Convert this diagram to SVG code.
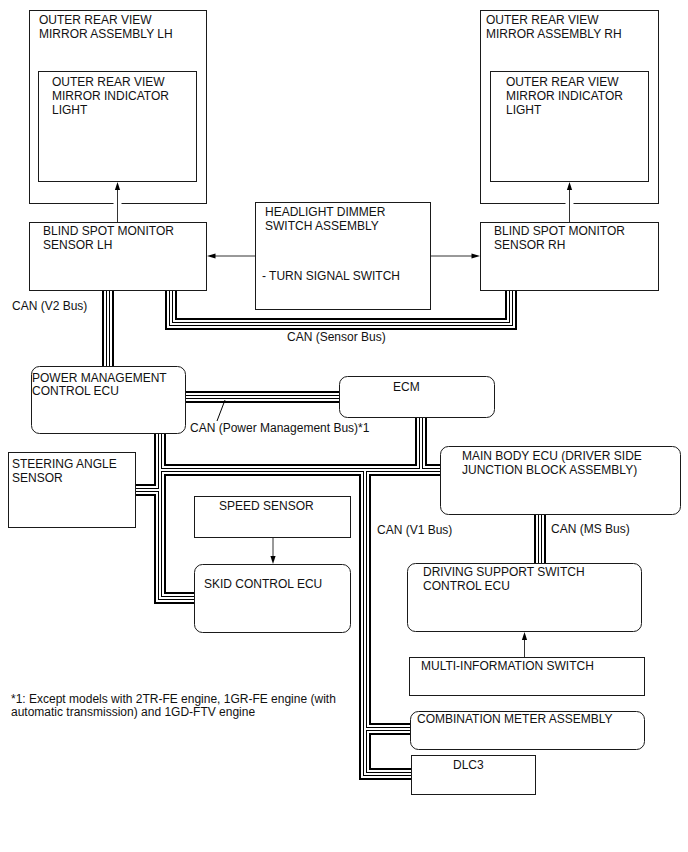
<svg xmlns="http://www.w3.org/2000/svg" width="688" height="852" viewBox="0 0 688 852">
<defs>
<style>
text{font-family:"Liberation Sans",Arial,sans-serif;font-size:12px;fill:#111}
.box{fill:#fff;stroke:#1a1a1a;stroke-width:1}
.b1{fill:none;stroke:#000;stroke-width:12;stroke-linejoin:miter}
.b2{fill:none;stroke:#fff;stroke-width:8;stroke-linejoin:miter}
.b3{fill:none;stroke:#000;stroke-width:4;stroke-linejoin:miter}
.b4{fill:none;stroke:#fff;stroke-width:2;stroke-linejoin:miter}
.ar{fill:none;stroke:#333;stroke-width:1}
.ah{fill:#000}
</style>
</defs>
<rect width="688" height="852" fill="#fff"/>
<g id="buses">
<g class="b1">
<path d="M108,286V370"/><path d="M171,286V324H511V286"/><path d="M182,397H343"/>
<path d="M160,430V598H199"/><path d="M132,490H160"/><path d="M160,470H444"/>
<path d="M421,413V470"/><path d="M365,470V774H415"/><path d="M365,729H414"/><path d="M540,510V567"/>
</g>
<g class="b2">
<path d="M108,286V370"/><path d="M171,286V324H511V286"/><path d="M182,397H343"/>
<path d="M160,430V598H199"/><path d="M132,490H160"/><path d="M160,470H444"/>
<path d="M421,413V470"/><path d="M365,470V774H415"/><path d="M365,729H414"/><path d="M540,510V567"/>
</g>
<g class="b3">
<path d="M108,286V370"/><path d="M171,286V324H511V286"/><path d="M182,397H343"/>
<path d="M160,430V598H199"/><path d="M132,490H160"/><path d="M160,470H444"/>
<path d="M421,413V470"/><path d="M365,470V774H415"/><path d="M365,729H414"/><path d="M540,510V567"/>
</g>
<g class="b4">
<path d="M108,286V370"/><path d="M171,286V324H511V286"/><path d="M182,397H343"/>
<path d="M160,430V598H199"/><path d="M132,490H160"/><path d="M160,470H444"/>
<path d="M421,413V470"/><path d="M365,470V774H415"/><path d="M365,729H414"/><path d="M540,510V567"/>
</g>
</g>
<g id="mirror-lh">
<rect class="box" x="29.5" y="10.5" width="177" height="193"/>
<text x="39" y="24">OUTER REAR VIEW</text><text x="39" y="38">MIRROR ASSEMBLY LH</text>
</g>
<g id="indicator-lh">
<rect class="box" x="38.5" y="71.5" width="158" height="110"/>
<text x="52" y="86">OUTER REAR VIEW</text><text x="52" y="100">MIRROR INDICATOR</text><text x="52" y="114">LIGHT</text>
</g>
<g id="mirror-rh">
<rect class="box" x="480.5" y="10.5" width="178" height="193"/>
<text x="486" y="24">OUTER REAR VIEW</text><text x="486" y="38">MIRROR ASSEMBLY RH</text>
</g>
<g id="indicator-rh">
<rect class="box" x="490.5" y="71.5" width="158" height="110"/>
<text x="506" y="86">OUTER REAR VIEW</text><text x="506" y="100">MIRROR INDICATOR</text><text x="506" y="114">LIGHT</text>
</g>
<g id="bsm-lh">
<rect class="box" x="29.5" y="222.5" width="177" height="68"/>
<text x="43" y="235">BLIND SPOT MONITOR</text><text x="43" y="249">SENSOR LH</text>
</g>
<g id="bsm-rh">
<rect class="box" x="480.5" y="222.5" width="178" height="68"/>
<text x="494" y="235">BLIND SPOT MONITOR</text><text x="494" y="249">SENSOR RH</text>
</g>
<g id="headlight">
<rect class="box" x="255.5" y="202.5" width="175" height="107"/>
<text x="265" y="216">HEADLIGHT DIMMER</text><text x="265" y="229.5">SWITCH ASSEMBLY</text>
<text x="262" y="280">- TURN SIGNAL SWITCH</text>
</g>
<g id="pmc">
<rect class="box" x="31.5" y="366.5" width="154" height="67" rx="8"/>
<text x="32" y="382">POWER MANAGEMENT</text><text x="32" y="395">CONTROL ECU</text>
</g>
<g id="ecm">
<rect class="box" x="339.5" y="376.5" width="155" height="41" rx="8"/>
<text x="393" y="391">ECM</text>
</g>
<g id="steering">
<rect class="box" x="8.5" y="452.5" width="127" height="75"/>
<text x="12" y="468">STEERING ANGLE</text><text x="12" y="482">SENSOR</text>
</g>
<g id="main-body">
<rect class="box" x="440.5" y="446.5" width="240" height="68" rx="8"/>
<text x="462" y="460">MAIN BODY ECU (DRIVER SIDE</text><text x="462" y="473.5">JUNCTION BLOCK ASSEMBLY)</text>
</g>
<g id="speed">
<rect class="box" x="194.5" y="496.5" width="156" height="41"/>
<text x="219" y="510">SPEED SENSOR</text>
</g>
<g id="skid">
<rect class="box" x="194.5" y="564.5" width="156" height="68" rx="8"/>
<text x="204" y="588">SKID CONTROL ECU</text>
</g>
<g id="dss">
<rect class="box" x="407.5" y="563.5" width="234" height="68" rx="8"/>
<text x="423" y="576">DRIVING SUPPORT SWITCH</text><text x="423" y="590">CONTROL ECU</text>
</g>
<g id="multi">
<rect class="box" x="409.5" y="657.5" width="235" height="38"/>
<text x="421" y="670">MULTI-INFORMATION SWITCH</text>
</g>
<g id="meter">
<rect class="box" x="410.5" y="711.5" width="234" height="38" rx="8"/>
<text x="417" y="723">COMBINATION METER ASSEMBLY</text>
</g>
<g id="dlc3">
<rect class="box" x="411.5" y="755.5" width="124" height="39"/>
<text x="453" y="769">DLC3</text>
</g>
<g id="connectors">
<line x1="113.5" y1="203.5" x2="121.5" y2="203.5" stroke="#fff" stroke-width="3"/>
<line x1="565.5" y1="203.5" x2="573.5" y2="203.5" stroke="#fff" stroke-width="3"/>
<line class="ar" x1="117.5" y1="222" x2="117.5" y2="189"/><polygon class="ah" points="117.5,182 114.9,190 120.1,190"/>
<line class="ar" x1="569.5" y1="222" x2="569.5" y2="189"/><polygon class="ah" points="569.5,182 566.9,190 572.1,190"/>
<line class="ar" x1="255" y1="256" x2="213" y2="256"/><polygon class="ah" points="207,256 215.5,253.4 215.5,258.6"/>
<line class="ar" x1="431" y1="256" x2="473" y2="256"/><polygon class="ah" points="480,256 471.5,253.4 471.5,258.6"/>
<line class="ar" x1="273" y1="538" x2="273" y2="557"/><polygon class="ah" points="273,564 270.4,556 275.6,556"/>
<line class="ar" x1="524.5" y1="657" x2="524.5" y2="638"/><polygon class="ah" points="524.5,632 521.9,640 527.1,640"/>
<line x1="217" y1="421" x2="225" y2="400" stroke="#000" stroke-width="1"/>
</g>
<g id="labels">
<text x="12" y="310">CAN (V2 Bus)</text>
<text x="287" y="341">CAN (Sensor Bus)</text>
<text x="190" y="432">CAN (Power Management Bus)*1</text>
<text x="377" y="534">CAN (V1 Bus)</text>
<text x="551" y="533">CAN (MS Bus)</text>
<text x="11" y="703">*1: Except models with 2TR-FE engine, 1GR-FE engine (with</text>
<text x="11" y="716">automatic transmission) and 1GD-FTV engine</text>
</g>
</svg>
